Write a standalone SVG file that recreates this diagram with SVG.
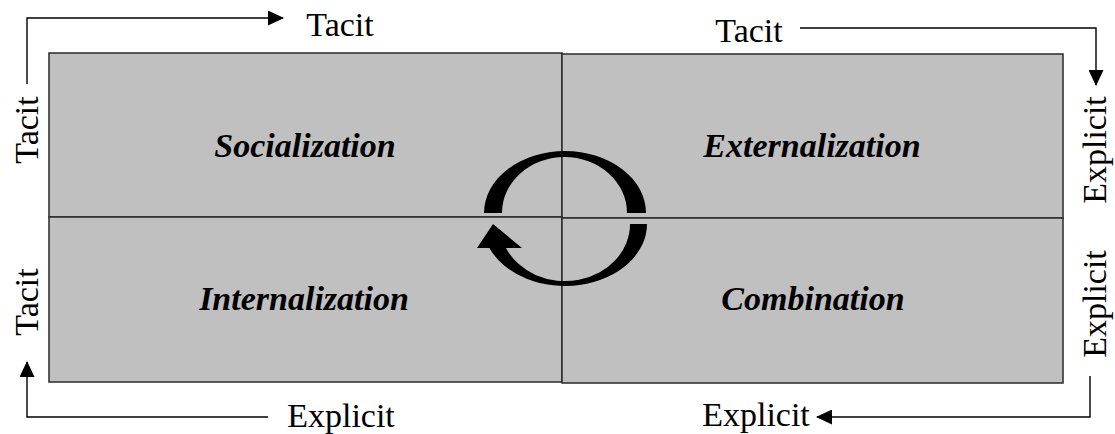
<svg xmlns="http://www.w3.org/2000/svg" width="1115" height="434" viewBox="0 0 1115 434">
  <style>
    .cell { fill: #c0c0c0; stroke: #2a2a2a; stroke-width: 1.5; }
    .mode { font-family: "Liberation Serif", "Times New Roman", serif; font-size: 34px; font-weight: bold; font-style: italic; fill: #000; text-anchor: middle; }
    .axis { font-family: "Liberation Serif", "Times New Roman", serif; font-size: 34px; fill: #000; text-anchor: middle; }
    .conn { fill: none; stroke: #000; stroke-width: 1.4; }
  </style>
  <defs>
    <marker id="arr" markerUnits="userSpaceOnUse" markerWidth="16" markerHeight="15" refX="15" refY="7.5" orient="auto">
      <path d="M0,0 L16,7.5 L0,15 Z" fill="#000"/>
    </marker>
  </defs>
  <rect width="1115" height="434" fill="#fff"/>

  <g id="socialization">
    <rect class="cell" x="49" y="53" width="513" height="164"/>
    <text class="mode" x="305" y="157">Socialization</text>
  </g>
  <g id="externalization">
    <rect class="cell" x="562" y="54" width="501" height="164"/>
    <text class="mode" x="812" y="157">Externalization</text>
  </g>
  <g id="internalization">
    <rect class="cell" x="49" y="217" width="513" height="165"/>
    <text class="mode" x="304" y="310">Internalization</text>
  </g>
  <g id="combination">
    <rect class="cell" x="562" y="218" width="501" height="165"/>
    <text class="mode" x="813" y="310">Combination</text>
  </g>

  <g id="cycle" fill="#000">
    <path d="M484,213 A81,62 0 0 1 646,213 L627,213 A62.5,56 0 0 0 502,213 Z"/>
    <path d="M647,224 A82,62 0 0 1 489.4,248 L477,248 L493,224 L522,248 L506,248 A65,57 0 0 0 630,224 Z"/>
  </g>

  <g id="connectors">
    <polyline class="conn" points="27,84 27,18 283,18" marker-end="url(#arr)"/>
    <polyline class="conn" points="800,28 1096,28 1096,85" marker-end="url(#arr)"/>
    <polyline class="conn" points="1090,376 1090,417 817,417" marker-end="url(#arr)"/>
    <polyline class="conn" points="268,417 27,417 27,362" marker-end="url(#arr)"/>
  </g>

  <g id="axis-labels">
    <text class="axis" x="340" y="36">Tacit</text>
    <text class="axis" x="749" y="42">Tacit</text>
    <text class="axis" x="341" y="427">Explicit</text>
    <text class="axis" x="756" y="426">Explicit</text>
    <text class="axis" x="38" y="130" transform="rotate(-90 38 130)">Tacit</text>
    <text class="axis" x="38" y="302" transform="rotate(-90 38 302)">Tacit</text>
    <text class="axis" x="1106" y="150" transform="rotate(-90 1106 150)">Explicit</text>
    <text class="axis" x="1106" y="304" transform="rotate(-90 1106 304)">Explicit</text>
  </g>
</svg>
